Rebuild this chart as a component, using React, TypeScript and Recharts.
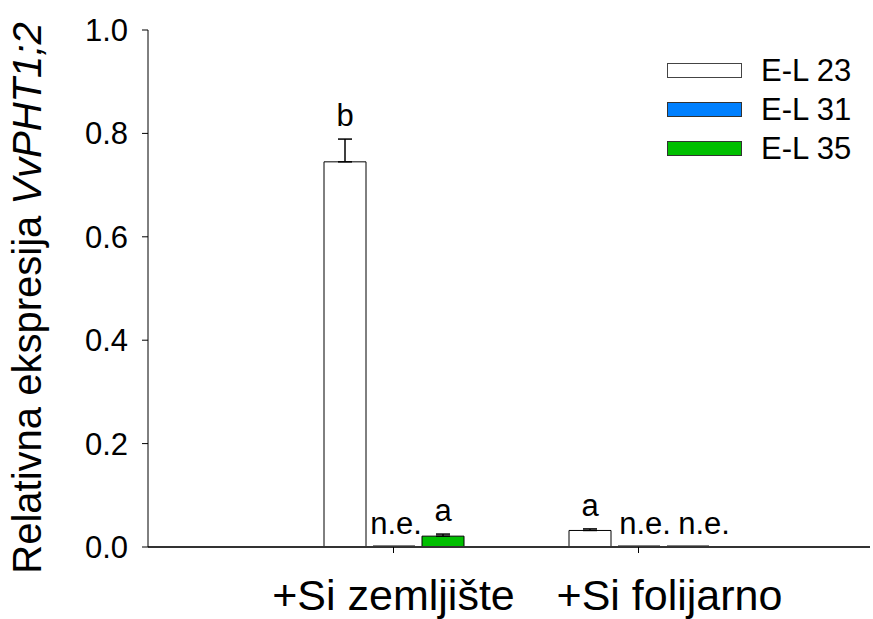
import React from "react";
import { BarChart, Bar, XAxis, YAxis, ErrorBar, LabelList } from "recharts";

const categories = ["+Si zemljište", "+Si folijarno"];
const seriesNames = ["E-L 23", "E-L 31", "E-L 35"];
const el23 = [0.745, 0.032];
const el31 = [0, 0];
const el35 = [0.021, 0];
const el23Err = [0.044, 0.003];
const el31Err = [null, null];
const el35Err = [0.004, null];
const el23Labels = ["b", "a"];
const el31Labels = ["n.e.", "n.e."];
const el35Labels = ["a", "n.e."];
const yTicks = [0, 0.2, 0.4, 0.6, 0.8, 1.0];

const W = 873;
const H = 619;
const TOP = 30;
const XAXIS_H = 72;
const PX_PER_UNIT = H - TOP - XAXIS_H;
const FONT = "'Liberation Sans', Arial, sans-serif";
const COLORS = ["#ffffff", "#0080ff", "#00bf00"];
const LEGEND_STROKE = ["#444", "#333", "#333"];
const X_LABEL_DX = [0, 31];

const data = categories.map((c, i) => ({
  cat: c,
  el23: el23[i],
  el31: el31[i],
  el35: el35[i],
  el23e: el23Err[i] == null ? null : [0, el23Err[i]],
  el31e: el31Err[i] == null ? null : [0, el31Err[i]],
  el35e: el35Err[i] == null ? null : [0, el35Err[i]],
}));

const labelSets = [el23Labels, el31Labels, el35Labels];
const errSets = [el23Err, el31Err, el35Err];
const labelDx = [
  [0, 0],
  [2, 6],
  [0, 16],
];

const makeLabel = (s: number) => (props: any) => {
  const { x, y, width, height, index, value } = props;
  const err = errSets[s][index] || 0;
  const text = labelSets[s][index];
  const cx = Number(x) + Number(width) / 2 + labelDx[s][index];
  const top = Number(value) === 0 ? Number(y) + Number(height) : Number(y);
  const yy = top - err * PX_PER_UNIT - 13;
  return (
    <text x={cx} y={yy} textAnchor="middle" fontSize={31} fontFamily={FONT} fill="#000">
      {text}
    </text>
  );
};

const XTick = (props: any) => {
  const { x, payload, index } = props;
  return (
    <text x={Number(x) + (X_LABEL_DX[index] || 0)} y={610} textAnchor="middle" fontSize={43} fontFamily={FONT} fill="#000">
      {payload.value}
    </text>
  );
};

const YLabel = () => (
  <text
    x={0}
    y={0}
    transform="translate(41, 298) rotate(-90)"
    textAnchor="middle"
    fontSize={40}
    fontFamily={FONT}
    fill="#000"
  >
    Relativna ekspresija <tspan fontStyle="italic">VvPHT1;2</tspan>
  </text>
);

const LegendBox = () => (
  <div style={{ position: "absolute", left: 667, top: 51, fontFamily: FONT }}>
    {seriesNames.map((n, i) => (
      <div key={n} style={{ display: "flex", alignItems: "center", height: 39 }}>
        <div
          style={{
            width: 73,
            height: 13,
            background: COLORS[i],
            border: `1px solid ${LEGEND_STROKE[i]}`,
          }}
        />
        <span style={{ marginLeft: 19, fontSize: 31, color: "#000", lineHeight: "39px" }}>{n}</span>
      </div>
    ))}
  </div>
);

export default function App() {
  return (
    <div style={{ position: "absolute", left: 0, top: 0, width: W, height: H, background: "#fff" }}>
      <BarChart
        width={W}
        height={H}
        data={data}
        margin={{ top: TOP, right: 3, bottom: 0, left: 0 }}
        barSize={42}
        barGap={7}
      >
        <XAxis
          dataKey="cat"
          height={XAXIS_H}
          padding={{ left: 123, right: 109 }}
          tick={<XTick />}
          tickLine={{ stroke: "#000" }}
          tickSize={6}
          axisLine={{ stroke: "#333", strokeWidth: 2 }}
          interval={0}
        />
        <YAxis
          width={148}
          domain={[0, 1]}
          ticks={yTicks}
          tickFormatter={(v: number) => v.toFixed(1)}
          tick={{ fontSize: 31, fill: "#000", fontFamily: FONT }}
          tickSize={6}
          tickMargin={14}
          tickLine={{ stroke: "#000" }}
          axisLine={{ stroke: "#000" }}
          allowDataOverflow
          label={<YLabel />}
        />
        <Bar dataKey="el23" name={seriesNames[0]} fill={COLORS[0]} stroke="#000" strokeWidth={1} isAnimationActive={false}>
          <ErrorBar dataKey="el23e" width={7} stroke="#000" strokeWidth={1.5} direction="y" />
          <LabelList dataKey="el23" content={makeLabel(0)} />
        </Bar>
        <Bar dataKey="el31" name={seriesNames[1]} fill={COLORS[1]} stroke="#000" strokeWidth={1} minPointSize={1} isAnimationActive={false}>
          <LabelList dataKey="el31" content={makeLabel(1)} />
        </Bar>
        <Bar dataKey="el35" name={seriesNames[2]} fill={COLORS[2]} stroke="#000" strokeWidth={1} minPointSize={1} isAnimationActive={false}>
          <ErrorBar dataKey="el35e" width={7} stroke="#000" strokeWidth={1.5} direction="y" />
          <LabelList dataKey="el35" content={makeLabel(2)} />
        </Bar>
      </BarChart>
      <LegendBox />
    </div>
  );
}
